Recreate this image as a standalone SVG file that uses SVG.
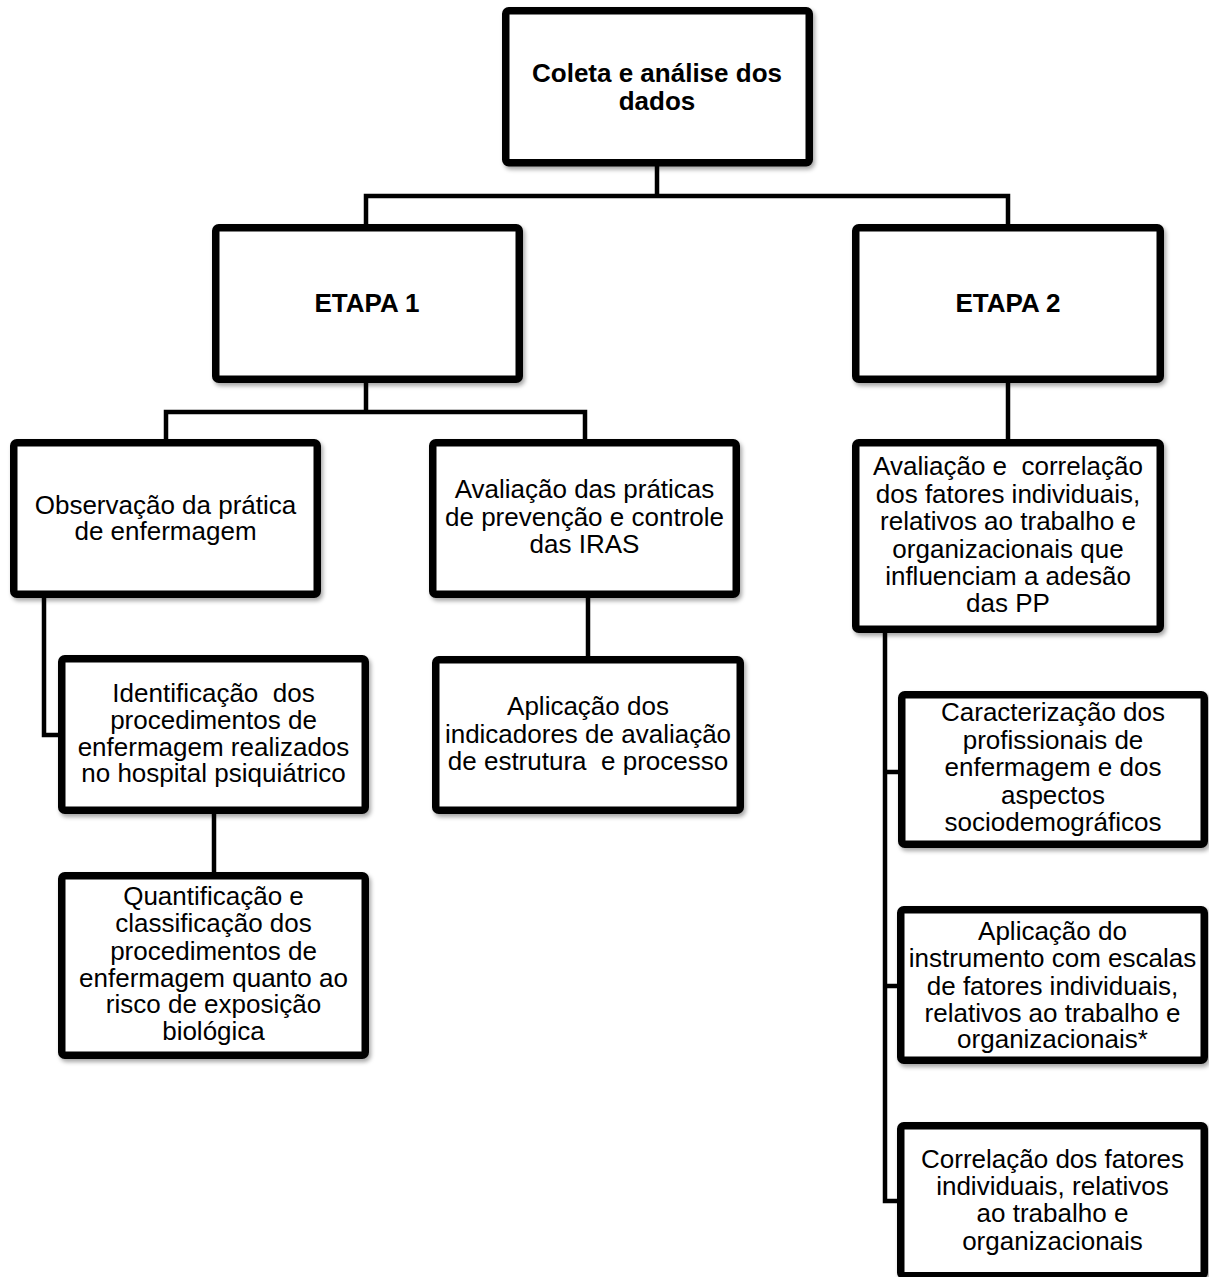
<svg xmlns="http://www.w3.org/2000/svg" width="1209" height="1277" viewBox="0 0 1209 1277">
<defs>
<filter id="sh" x="-10%" y="-10%" width="130%" height="130%">
<feDropShadow dx="2" dy="3" stdDeviation="2.2" flood-color="#000" flood-opacity="0.35"/>
</filter>
<style>
.box{fill:#fff;stroke:#000;stroke-width:7.5;filter:url(#sh)}
.c{fill:none;stroke:#000;stroke-width:4.5;stroke-linecap:square}
text{font-family:"Liberation Sans",Arial,sans-serif;font-size:26px;fill:#000;text-anchor:middle;white-space:pre}
.b{font-weight:bold}
</style>
</defs>
<rect width="1209" height="1277" fill="#fff"/>
<g id="connectors">
<path class="c" d="M657 167V196M366 196H1008M366 196V224M1008 196V224"/>
<path class="c" d="M366 383V412M166 412H585M166 412V439M585 412V439"/>
<path class="c" d="M588 598V656"/>
<path class="c" d="M44 598V735H58"/>
<path class="c" d="M214 814V872"/>
<path class="c" d="M1008 383V439"/>
<path class="c" d="M885 633V1201M885 772H898M885 986H897M885 1201H897"/>
</g>
<g id="n-coleta">
<rect class="box" x="505.75" y="10.75" width="303.5" height="152" rx="3"/>
<text class="b"><tspan x="657" y="82">Coleta e análise dos</tspan><tspan x="657" y="110">dados</tspan></text>
</g>
<g id="n-etapa1">
<rect class="box" x="215.75" y="227.75" width="303.5" height="151.5" rx="3"/>
<text class="b" x="367" y="312">ETAPA 1</text>
</g>
<g id="n-etapa2">
<rect class="box" x="855.75" y="227.75" width="304.5" height="151.5" rx="3"/>
<text class="b" x="1008" y="312">ETAPA 2</text>
</g>
<g id="n-observacao">
<rect class="box" x="13.75" y="442.75" width="303.5" height="151.5" rx="3"/>
<text><tspan x="165.5" y="514">Observação da prática</tspan><tspan x="165.5" y="540">de enfermagem</tspan></text>
</g>
<g id="n-avaliacao-praticas">
<rect class="box" x="432.75" y="442.75" width="303.5" height="151.5" rx="3"/>
<text><tspan x="584.5" y="498">Avaliação das práticas</tspan><tspan x="584.5" y="525.5">de prevenção e controle</tspan><tspan x="584.5" y="553">das IRAS</tspan></text>
</g>
<g id="n-avaliacao-correlacao">
<rect class="box" x="855.75" y="442.75" width="304.5" height="186.5" rx="3"/>
<text><tspan x="1008" y="475">Avaliação e  correlação</tspan><tspan x="1008" y="502.5">dos fatores individuais,</tspan><tspan x="1008" y="530">relativos ao trabalho e</tspan><tspan x="1008" y="557.5">organizacionais que</tspan><tspan x="1008" y="585">influenciam a adesão</tspan><tspan x="1008" y="612">das PP</tspan></text>
</g>
<g id="n-identificacao">
<rect class="box" x="61.75" y="658.75" width="303.5" height="151.5" rx="3"/>
<text><tspan x="213.5" y="702">Identificação  dos</tspan><tspan x="213.5" y="729">procedimentos de</tspan><tspan x="213.5" y="756">enfermagem realizados</tspan><tspan x="213.5" y="782">no hospital psiquiátrico</tspan></text>
</g>
<g id="n-aplicacao-indicadores">
<rect class="box" x="435.75" y="659.75" width="304.5" height="150.5" rx="3"/>
<text><tspan x="588" y="715">Aplicação dos</tspan><tspan x="588" y="743">indicadores de avaliação</tspan><tspan x="588" y="770">de estrutura  e processo</tspan></text>
</g>
<g id="n-quantificacao">
<rect class="box" x="61.75" y="875.75" width="303.5" height="179.5" rx="3"/>
<text><tspan x="213.5" y="905">Quantificação e</tspan><tspan x="213.5" y="932">classificação dos</tspan><tspan x="213.5" y="959.5">procedimentos de</tspan><tspan x="213.5" y="986.5">enfermagem quanto ao</tspan><tspan x="213.5" y="1013">risco de exposição</tspan><tspan x="213.5" y="1040">biológica</tspan></text>
</g>
<g id="n-caracterizacao">
<rect class="box" x="901.75" y="694.75" width="302.5" height="149.5" rx="3"/>
<text><tspan x="1053" y="721">Caracterização dos</tspan><tspan x="1053" y="748.5">profissionais de</tspan><tspan x="1053" y="776">enfermagem e dos</tspan><tspan x="1053" y="803.5">aspectos</tspan><tspan x="1053" y="831">sociodemográficos</tspan></text>
</g>
<g id="n-aplicacao-instrumento">
<rect class="box" x="900.75" y="909.75" width="303.5" height="150.5" rx="3"/>
<text><tspan x="1052.5" y="940">Aplicação do</tspan><tspan x="1052.5" y="967">instrumento com escalas</tspan><tspan x="1052.5" y="994.5">de fatores individuais,</tspan><tspan x="1052.5" y="1021.5">relativos ao trabalho e</tspan><tspan x="1052.5" y="1048">organizacionais*</tspan></text>
</g>
<g id="n-correlacao">
<rect class="box" x="900.75" y="1125.75" width="303.5" height="150" rx="3"/>
<text><tspan x="1052.5" y="1168">Correlação dos fatores</tspan><tspan x="1052.5" y="1195">individuais, relativos</tspan><tspan x="1052.5" y="1222">ao trabalho e</tspan><tspan x="1052.5" y="1249.5">organizacionais</tspan></text>
</g>
</svg>
